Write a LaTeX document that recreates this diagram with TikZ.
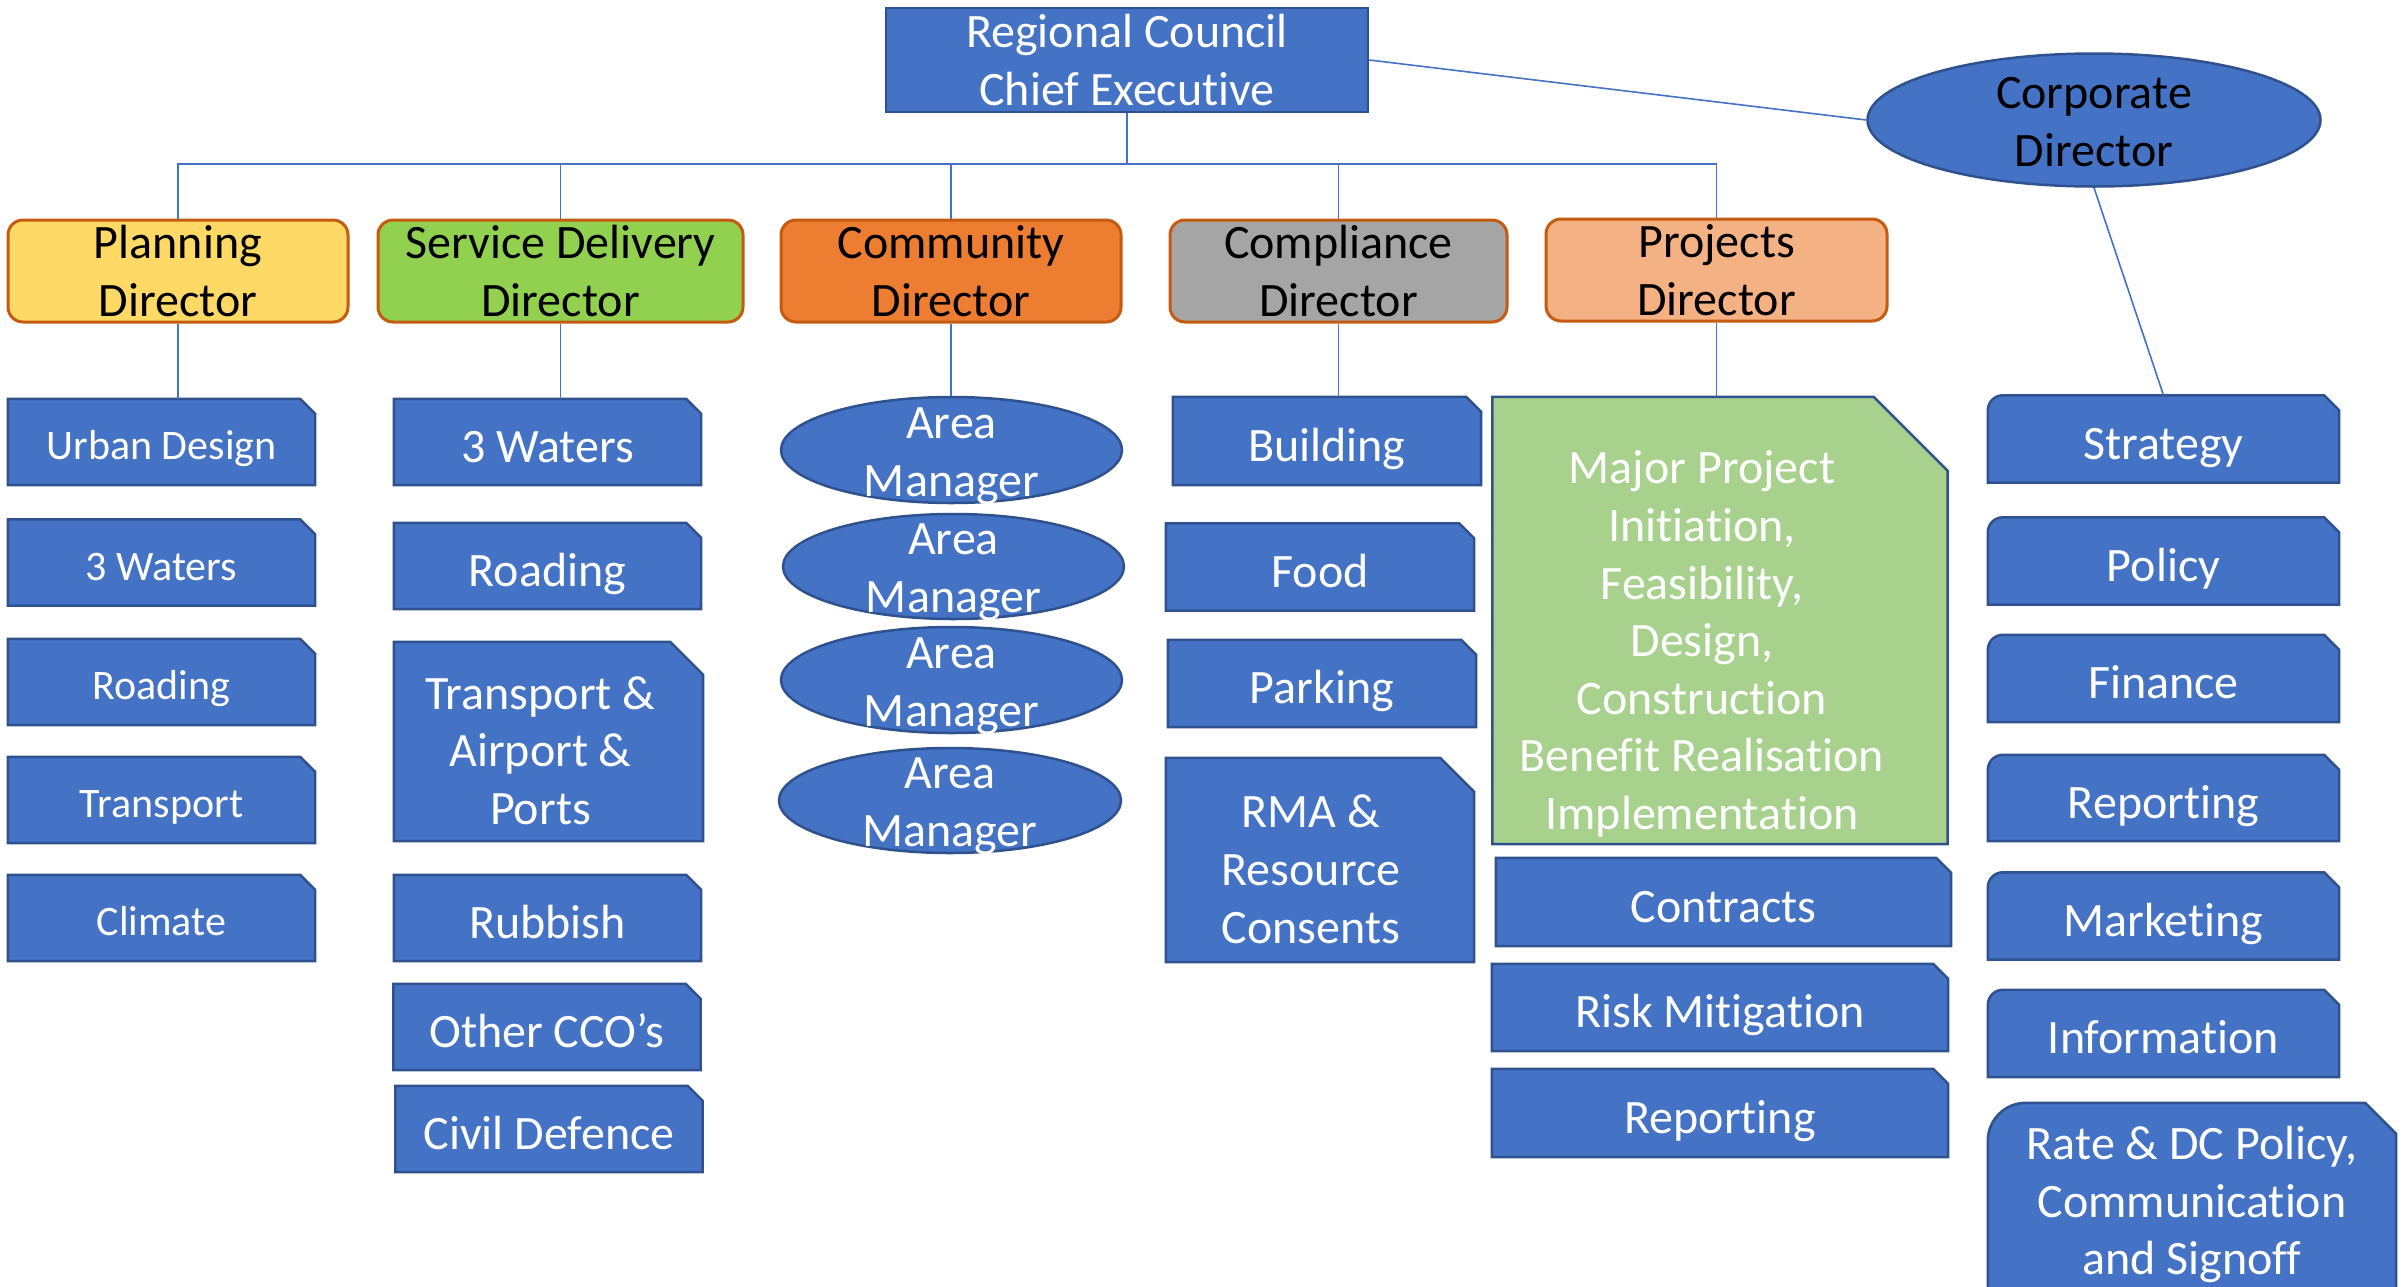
\documentclass[tikz,border=0pt]{standalone}
\usepackage{fontspec}
\setmainfont{Carlito}[Ligatures=NoCommon]
\usetikzlibrary{shapes.geometric}
\definecolor{boxblue}{HTML}{4472C4}
\definecolor{boxedge}{HTML}{2F528F}
\definecolor{linkblue}{HTML}{4472C4}
\definecolor{diredge}{HTML}{C55A11}
\definecolor{planfill}{HTML}{FFD966}
\definecolor{servfill}{HTML}{92D050}
\definecolor{commfill}{HTML}{ED7D31}
\definecolor{compfill}{HTML}{A5A5A5}
\definecolor{projfill}{HTML}{F4B183}
\definecolor{greenfill}{HTML}{A9D18E}
\pgfdeclarelayer{bg}
\pgfsetlayers{bg,main}
\newcommand\bigf{\fontsize{48}{57.6}\selectfont}
\newcommand\smallf{\fontsize{42}{50.4}\selectfont}
\newcommand\cellTop{\rule{0pt}{1.09em}}
\newcommand\cellTopX{\rule{0pt}{1.31em}}
\newcommand\cellBot{\rule[-0.25em]{0pt}{0.25em}}
\newcommand\snipshape[3][boxblue]{\path[boxshape,fill=#1] (#2.south west) -- (#2.north west) -- ([xshift=-#3pt]#2.north east) -- ([yshift=-#3pt]#2.north east) -- (#2.south east) -- cycle;}
\newcommand\roundsnipshape[3]{\path[boxshape] (#1.south west) -- ([yshift=-#2pt]#1.north west) arc[start angle=180,end angle=90,radius=#2pt] -- ([xshift=-#3pt]#1.north east) -- ([yshift=-#3pt]#1.north east) -- (#1.south east) -- cycle;}
\tikzset{
  boxshape/.style={fill=boxblue, draw=boxedge, line width=2.5pt, line join=miter},
  cell/.style={rectangle, inner sep=0pt, text=white, font=\bigf, align=center},
  pcell/.style={cell, font=\smallf, minimum width=307pt, minimum height=86pt},
  scell/.style={cell, minimum width=307pt, minimum height=86pt},
  ccell/.style={cell, minimum width=308pt, minimum height=87pt},
  jcell/.style={cell, minimum width=456pt, minimum height=87pt},
  kcell/.style={cell, minimum width=351pt, minimum height=87pt},
  director/.style={rectangle, rounded corners=15pt, draw=diredge, line width=3pt, inner sep=0pt, text=black, font=\bigf, align=center, minimum height=102pt},
  link/.style={draw=linkblue, line width=1.6pt},
  oval/.style={ellipse, fill=boxblue, draw=boxedge, line width=2.5pt, inner sep=0pt},
  ovaltext/.style={text=white, font=\bigf, align=center, inner sep=0pt},
}
\begin{document}
\begin{tikzpicture}[x=1pt,y=-1pt]
\useasboundingbox (0,0) rectangle (2407,1286);
% top level
\node[cell, fill=boxblue, draw=boxedge, line width=2.5pt, minimum width=482pt, minimum height=104pt] (ceo) at (1127,60) {Regional Council\\Chief Executive};
\node[oval, minimum width=453pt, minimum height=133pt] (corp) at (2094,120) {};
\node[ovaltext, text=black] (corptext) at ([yshift=-2pt]corp.center) {Corporate\\Director};
% directors
\node[director, fill=planfill, minimum width=340pt] (plan) at (178,271) {Planning\\Director};
\node[director, fill=servfill, minimum width=365pt] (serv) at (560.5,271) {Service Delivery\\Director};
\node[director, fill=commfill, minimum width=340pt] (comm) at (951,271) {Community\\Director};
\node[director, fill=compfill, minimum width=337pt] (comp) at (1338.5,271) {Compliance\\Director};
\node[director, fill=projfill, minimum width=341pt] (proj) at (1716.5,270) {Projects\\Director};
% planning
\node[pcell] (ud) at (161.5,442) {\cellTop Urban Design\cellBot};
\node[pcell] (pw) at (161.5,562.5) {\cellTop 3 Waters\cellBot};
\node[pcell] (pr) at (161.5,682) {\cellTop Roading\cellBot};
\node[pcell] (pt) at (161.5,800) {\cellTop Transport\cellBot};
\node[pcell] (pc) at (161.5,918) {\cellTop Climate\cellBot};
% service delivery
\node[scell] (sw) at (547.5,442) {\cellTop 3 Waters\cellBot};
\node[scell] (sr) at (547.5,566) {\cellTop Roading\cellBot};
\node[cell, minimum width=309pt, minimum height=199pt] (sa) at (548.5,741.5) {};
\node[cell] (sat) at ([xshift=-8pt]sa.center) {\cellTopX Transport \&\\Airport \&\\Ports\cellBot};
\node[scell] (sb) at (547.5,918) {\cellTop Rubbish\cellBot};
\node[scell] (so) at (547,1027) {\cellTop Other CCO’s\cellBot};
\node[scell] (sd) at (549,1129) {\cellTop Civil Defence\cellBot};
% community
\node[oval, minimum width=341pt, minimum height=106pt] (am1) at (951.5,450) {};
\node[oval, minimum width=341pt, minimum height=105pt] (am2) at (953.5,566.5) {};
\node[oval, minimum width=341pt, minimum height=106pt] (am3) at (951.5,680) {};
\node[oval, minimum width=342pt, minimum height=105pt] (am4) at (950,800.5) {};
\node[ovaltext] (am1t) at ([yshift=-6pt]am1.center) {Area\\Manager};
\node[ovaltext] (am2t) at ([yshift=-6pt]am2.center) {Area\\Manager};
\node[ovaltext] (am3t) at ([yshift=-6pt]am3.center) {Area\\Manager};
\node[ovaltext] (am4t) at ([yshift=-6pt]am4.center) {Area\\Manager};
% compliance
\node[ccell, minimum height=88pt] (cb) at (1327,441) {\cellTop Building\cellBot};
\node[ccell] (cf) at (1320,567) {\cellTop Food\cellBot};
\node[ccell] (cp) at (1322,683.5) {\cellTop Parking\cellBot};
\node[cell, minimum width=308pt, minimum height=204pt] (cr) at (1320,860) {};
\node[cell] (crt) at ([xshift=-9pt]cr.center) {\cellTopX RMA \&\\Resource\\Consents\cellBot};
% projects
\node[cell, minimum width=455pt, minimum height=447pt] (pg) at (1720,620.5) {};
\node[cell] (pgt) at ([xshift=-18pt,yshift=-16pt]pg.center) {\cellTop Major Project\\Initiation,\\Feasibility,\\Design,\\Construction\\Benefit Realisation\\Implementation\cellBot};
\node[jcell, minimum width=455pt, minimum height=88pt] (pk) at (1723.5,902) {\cellTop Contracts\cellBot};
\node[jcell] (pm) at (1720,1007.5) {\cellTop Risk Mitigation\cellBot};
\node[jcell, minimum height=88pt] (pp) at (1720,1113) {\cellTop Reporting\cellBot};
% corporate
\node[kcell] (ks) at (2163.5,439) {\cellTop Strategy\cellBot};
\node[kcell] (kp) at (2163.5,561) {\cellTop Policy\cellBot};
\node[kcell] (kf) at (2163.5,678.5) {\cellTop Finance\cellBot};
\node[kcell, minimum height=86pt] (kr) at (2163.5,798) {\cellTop Reporting\cellBot};
\node[kcell] (km) at (2163.5,916) {\cellTop Marketing\cellBot};
\node[kcell] (ki) at (2163.5,1033.5) {\cellTop Information\cellBot};
\node[cell, minimum width=408pt, minimum height=188pt] (kd) at (2192,1197) {\cellTop Rate \& DC Policy,\\Communication\\and Signoff\cellBot};
% shapes behind text
\begin{pgfonlayer}{bg}
\snipshape{ud}{15}\snipshape{pw}{15}\snipshape{pr}{15}\snipshape{pt}{15}\snipshape{pc}{15}
\snipshape{sw}{15}\snipshape{sr}{15}\snipshape{sa}{33}\snipshape{sb}{15}\snipshape{so}{15}\snipshape{sd}{15}
\snipshape{cb}{15}\snipshape{cf}{15}\snipshape{cp}{15}\snipshape{cr}{34}
\snipshape[greenfill]{pg}{74}
\snipshape{pk}{15}\snipshape{pm}{15}\snipshape{pp}{15}
\roundsnipshape{ks}{15}{15}\roundsnipshape{kp}{15}{15}\roundsnipshape{kf}{15}{15}
\roundsnipshape{kr}{15}{15}\roundsnipshape{km}{15}{15}\roundsnipshape{ki}{15}{15}
\roundsnipshape{kd}{38}{31}
\end{pgfonlayer}
% connectors
\coordinate (busy) at (0,164);
\draw[link] (ceo.south) -- (ceo.south |- busy) -| (plan.north);
\draw[link] (ceo.south) -- (ceo.south |- busy) -| (serv.north);
\draw[link] (ceo.south) -- (ceo.south |- busy) -| (comm.north);
\draw[link] (ceo.south) -- (ceo.south |- busy) -| (comp.north);
\draw[link] (ceo.south) -- (ceo.south |- busy) -| (proj.north);
\draw[link] (ceo.east) -- (corp.west);
\draw[link] (corp.south) -- (ks.north);
\draw[link] (plan.south) -- (plan.south |- ud.north);
\draw[link] (serv.south) -- (serv.south |- sw.north);
\draw[link] (comm.south) -- (comm.south |- am1.north);
\draw[link] (comp.south) -- (comp.south |- cb.north);
\draw[link] (proj.south) -- (proj.south |- pg.north);
\end{tikzpicture}
\end{document}
